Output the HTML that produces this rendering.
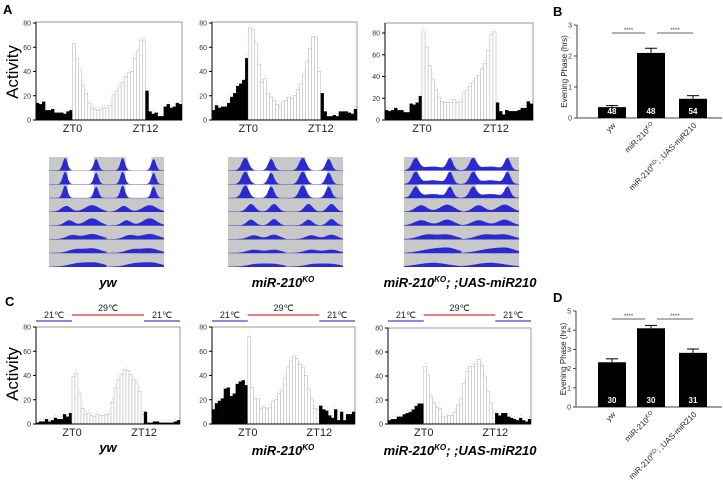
<!DOCTYPE html>
<html><head><meta charset="utf-8"><style>
body{margin:0;background:#fff;}
svg{display:block;font-family:"Liberation Sans",sans-serif;}
</style></head><body>
<svg id="fig" width="723" height="481" viewBox="0 0 723 481" xmlns="http://www.w3.org/2000/svg">
<text x="3" y="14" font-size="13" font-weight="bold">A</text>
<text x="553" y="16" font-size="13" font-weight="bold">B</text>
<text x="5" y="306" font-size="13" font-weight="bold">C</text>
<text x="553" y="302" font-size="13" font-weight="bold">D</text>
<text transform="translate(18,72) rotate(-90)" text-anchor="middle" font-size="17">Activity</text>
<text transform="translate(18,374) rotate(-90)" text-anchor="middle" font-size="17">Activity</text>
<g font-size="13" font-weight="bold" font-style="italic" text-anchor="middle">
<text x="108" y="287">yw</text>
<text x="283" y="287">miR-210<tspan font-size="8" dy="-5">KO</tspan></text>
<text x="460" y="287">miR-210<tspan font-size="8" dy="-5">KO</tspan><tspan dy="5">; ;UAS-miR210</tspan></text>
<text x="108" y="452">yw</text>
<text x="283" y="455">miR-210<tspan font-size="8" dy="-5">KO</tspan></text>
<text x="460" y="455">miR-210<tspan font-size="8" dy="-5">KO</tspan><tspan dy="5">; ;UAS-miR210</tspan></text>
</g>
</svg>
<script>
// ---- Panel A histograms ----
const a1Pre=[14,13,15,8,8,9,6,6,6,5,7,8];
const a1Light=[63,51,42,29,22,14,10,9,8,9,10,10,12,21,24,28,31,36,39,40,51,57,66,66];
const a1Post=[24,7,5,6,3,3,11,13,10,11,14,13];
const a2Pre=[8,12,10,11,11,14,19,22,28,30,33,51];
const a2Light=[76,75,63,46,31,34,22,19,16,13,11,15,16,19,18,20,25,30,38,48,59,69,68,40];
const a2Post=[22,7,3,3,4,3,7,7,7,6,5,9];
const a3Pre=[9,8,9,11,9,9,7,7,15,14,16,22];
const a3Light=[81,67,50,37,28,21,17,16,16,16,19,16,17,25,27,31,34,38,41,47,52,64,79,81];
const a3Post=[16,8,5,9,8,8,8,9,11,11,17,15];
// ---- Panel C histograms ----
const c1Pre=[1,2,2,4,2,3,5,4,4,8,6,9];
const c1Light=[39,42,25,13,8,9,7,6,8,7,7,8,9,18,30,37,41,45,44,41,37,34,27,8];
const c1Post=[10,1,1,2,2,1,1,1,1,1,2,3];
const c2Pre=[12,17,19,21,29,30,23,25,33,35,36,32];
const c2Light=[72,30,20,21,13,14,13,14,19,20,25,28,38,47,52,56,54,49,47,40,29,20,13,12];
const c2Post=[15,12,11,7,5,12,3,10,3,8,8,10];
const c3Pre=[3,4,4,6,6,8,9,10,12,15,17,17];
const c3Light=[48,41,23,18,14,13,6,6,7,7,10,16,21,34,44,48,48,50,54,49,40,27,18,10];
const c3Post=[9,7,9,9,6,5,4,3,5,3,2,4];
const histTicks=[0,20,40,60,80];
// ---- Bar charts ----
const bCats=["yw","miR-210KO","miR-210KO; ;UAS-miR210"];
const bVals=[0.35,2.1,0.62];
const bErr=[0.05,0.15,0.1];
const bN=["48","48","54"];
const bTicks=[0,1,2,3];
const dVals=[2.33,4.1,2.82];
const dErr=[0.18,0.15,0.2];
const dN=["30","30","31"];
const dTicks=[0,1,2,3,4,5];

const svg=document.getElementById('fig');
const NS="http://www.w3.org/2000/svg";
function mk(tag,attrs,parent){const e=document.createElementNS(NS,tag);for(const k in attrs)e.setAttribute(k,attrs[k]);(parent||svg).appendChild(e);return e;}

function hist(name,x0,x1,frameTop,y80,y0,pre,light,post){
  const g=mk('g',{});
  
  
  const vals=pre.concat(light,post);
  const n=vals.length,bw=(x1-x0)/n;
  const ys=v=>y0-(y0-y80)*v/80;
  mk('rect',{x:x0,y:frameTop,width:x1-x0,height:y0-frameTop,fill:'none',stroke:'#999','stroke-width':1},g);
  vals.forEach((v,i)=>{
    const dark=i<pre.length||i>=pre.length+light.length;
    const r=mk('rect',{x:x0+i*bw,y:ys(v),width:bw,height:y0-ys(v),fill:dark?'#000':'#fff',stroke:dark?'#000':'#bbb','stroke-width':dark?0.3:0.6},g);
    
    
    mk('rect',{x:x0+i*bw+bw/2-0.4,y:ys(v)-3,width:0.8,height:0.8,fill:'#bbb'},g);
  });
  mk('line',{x1:x0,y1:frameTop,x2:x0,y2:y0,stroke:'#000','stroke-width':1},g);
  mk('line',{x1:x0,y1:y0,x2:x1,y2:y0,stroke:'#000','stroke-width':1},g);
  histTicks.forEach(t=>{
    mk('line',{x1:x0-3,y1:ys(t),x2:x0,y2:ys(t),stroke:'#000'},g);
    const tx=mk('text',{x:x0-5,y:ys(t)+2.5,'font-size':7,'text-anchor':'end',fill:'#333'},g);tx.textContent=t;
  });
  const z0=x0+pre.length*bw, z12=x0+(pre.length+light.length)*bw;
  const l1=mk('text',{x:z0,y:y0+12,'font-size':11,'text-anchor':'middle',fill:'#222'},g);l1.textContent='ZT0';
  
  const l2=mk('text',{x:z12,y:y0+12,'font-size':11,'text-anchor':'middle',fill:'#222'},g);l2.textContent='ZT12';
  
  return {z0,z12};
}
hist('activity-histogram-yw-a',36,182,22,23,120,a1Pre,a1Light,a1Post);
hist('activity-histogram-ko-a',212,357,22,23,120,a2Pre,a2Light,a2Post);
hist('activity-histogram-rescue-a',385,533,23,33,120,a3Pre,a3Light,a3Post);
const tc=[
 hist('activity-histogram-yw-c',36,180,327,327,424,c1Pre,c1Light,c1Post),
 hist('activity-histogram-ko-c',212,355,327,327,424,c2Pre,c2Light,c2Post),
 hist('activity-histogram-rescue-c',388,531,328,328,424,c3Pre,c3Light,c3Post)];
[[36,180],[212,355],[388,531]].forEach((r,i)=>{
  const z0=tc[i].z0,z12=tc[i].z12;
  const g=mk('g',{});
  
  
  mk('line',{x1:r[0],y1:321,x2:z0,y2:321,stroke:'#4444cc','stroke-width':1.3},g);
  mk('line',{x1:z0,y1:315,x2:z12,y2:315,stroke:'#dd3333','stroke-width':1.3},g);
  mk('line',{x1:z12,y1:321,x2:r[1],y2:321,stroke:'#4444cc','stroke-width':1.3},g);
  [[(r[0]+z0)/2,318,'21℃'],[(z0+z12)/2,311,'29℃'],[(z12+r[1])/2,318,'21℃']].forEach(p=>{
    const t=mk('text',{x:p[0],y:p[1],'font-size':9,'text-anchor':'middle',fill:'#222'},g);t.textContent=p[2];
  });
});

// ---- Actograms ----
const actoYw=[
 {w:[0.33,0.78],p:[[0.28,1,0.04],[0.82,0.9,0.04]]},
 {w:[0.33,0.78],p:[[0.28,1,0.04],[0.82,0.9,0.04]]},
 {w:[0.33,0.78],p:[[0.28,1,0.04],[0.82,0.9,0.04]]},
 {w:null,p:[[0.3,0.45,0.08],[0.75,0.5,0.12]]},
 {w:null,p:[[0.35,0.4,0.08],[0.75,0.55,0.12]]},
 {w:null,p:[[0.4,0.3,0.1],[0.75,0.4,0.15]]},
 {w:null,p:[[0.45,0.25,0.12],[0.75,0.35,0.15]]},
 {w:null,p:[[0.5,0.25,0.15],[0.8,0.3,0.15]]}];
const actoKo=[
 {w:[0.35,0.72],p:[[0.3,1,0.06],[0.75,0.9,0.05]]},
 {w:[0.35,0.72],p:[[0.3,1,0.06],[0.75,0.9,0.05]]},
 {w:[0.35,0.72],p:[[0.3,1,0.06],[0.75,0.9,0.05]]},
 {w:null,p:[[0.4,0.6,0.07],[0.8,0.6,0.07]]},
 {w:null,p:[[0.4,0.45,0.07],[0.8,0.5,0.07]]},
 {w:null,p:[[0.45,0.3,0.1],[0.8,0.35,0.1]]},
 {w:null,p:[[0.45,0.25,0.12],[0.8,0.25,0.12]]},
 {w:null,p:[[0.5,0.2,0.15],[0.8,0.2,0.15]]}];
const actoRe=[
 {w:[0.25,0.8],p:[[0.2,0.9,0.06],[0.8,0.9,0.05],[0.5,0.3,0.2]]},
 {w:[0.25,0.8],p:[[0.2,0.9,0.06],[0.8,0.9,0.05],[0.5,0.3,0.2]]},
 {w:[0.25,0.8],p:[[0.2,0.8,0.06],[0.8,0.8,0.05],[0.5,0.3,0.2]]},
 {w:null,p:[[0.3,0.5,0.1],[0.75,0.55,0.12]]},
 {w:null,p:[[0.3,0.4,0.12],[0.75,0.45,0.12]]},
 {w:null,p:[[0.4,0.35,0.15],[0.75,0.35,0.15]]},
 {w:null,p:[[0.5,0.3,0.2],[0.8,0.3,0.15]]},
 {w:null,p:[[0.5,0.3,0.25]]}];
function acto(name,x0,rows){
  const g=mk('g',{});
  
  
  const W=115,H=110,y0=157,rh=H/rows.length,hw=W/2;
  mk('rect',{x:x0,y:y0,width:W,height:H,fill:'#c8c8c8'},g);
  rows.forEach((r,i)=>{
    const by=y0+(i+1)*rh;
    for(let h=0;h<2;h++){
      const hx=x0+h*hw;
      if(r.w) mk('rect',{x:hx+r.w[0]*hw,y:by-rh,width:(r.w[1]-r.w[0])*hw,height:rh,fill:'#fff'},g);
      let d=`M${hx},${by}`;
      for(let k=0;k<=50;k++){
        const f=k/50;let v=0.03;
        r.p.forEach(p=>{v+=p[1]*Math.exp(-((f-p[0])**2)/(2*p[2]*p[2]));});
        v=Math.min(v,1);
        d+=` L${(hx+f*hw).toFixed(1)},${(by-v*(rh-1)).toFixed(1)}`;
      }
      d+=` L${hx+hw},${by} Z`;
      mk('path',{d,fill:'#2a2ad0'},g);
    }
  });
}
acto('actogram-yw',49,actoYw);
acto('actogram-ko',228,actoKo);
acto('actogram-rescue',404,actoRe);

// ---- Bar charts B and D ----
function barChart(name,ax,yTop,y0,ticks,vals,errs,ns,title){
  const g=mk('g',{});
  
  
  const max=ticks[ticks.length-1];
  const ys=v=>y0-(y0-yTop)*v/max;
  const centers=[612,651,693],bw=28;
  mk('line',{x1:ax,y1:yTop,x2:ax,y2:y0,stroke:'#444'},g);
  mk('line',{x1:ax,y1:y0,x2:722,y2:y0,stroke:'#444'},g);
  ticks.forEach(t=>{
    mk('line',{x1:ax-3,y1:ys(t),x2:ax,y2:ys(t),stroke:'#444'},g);
    const tx=mk('text',{x:ax-5,y:ys(t)+2.5,'font-size':7,'text-anchor':'end',fill:'#333'},g);tx.textContent=t;
  });
  const yt=mk('text',{transform:`translate(${ax-10},${(yTop+y0)/2}) rotate(-90)`,'font-size':8,'text-anchor':'middle',fill:'#222'},g);
  yt.textContent=title;
  
  vals.forEach((v,i)=>{
    const c=centers[i];
    const b=mk('rect',{x:c-bw/2,y:ys(v),width:bw,height:y0-ys(v),fill:'#000'},g);
    
    
    mk('line',{x1:c,y1:ys(v),x2:c,y2:ys(v+errs[i]),stroke:'#000'},g);
    mk('line',{x1:c-6,y1:ys(v+errs[i]),x2:c+6,y2:ys(v+errs[i]),stroke:'#000'},g);
    const nt=mk('text',{x:c,y:y0-4,'font-size':8,'font-weight':'bold','text-anchor':'middle',fill:'#fff'},g);nt.textContent=ns[i];
    const lt=mk('text',{transform:`translate(${c+4},${y0+8}) rotate(-45)`,'font-size':8,'text-anchor':'end',fill:'#222'},g);
    if(i==0) lt.textContent=bCats[0];
    else{lt.innerHTML='miR-210<tspan font-size="5.5" dy="-3">KO</tspan>'+(i==2?'<tspan dy="3">; ;UAS-miR210</tspan>':'');}
    
  });
  const sy=yTop+8;
  [[centers[0],centers[1]-6],[centers[1]+6,centers[2]]].forEach(s=>{
    mk('line',{x1:s[0],y1:sy,x2:s[1],y2:sy,stroke:'#666'},g);
    const st=mk('text',{x:(s[0]+s[1])/2,y:sy-1,'font-size':6,'text-anchor':'middle',fill:'#444'},g);st.textContent='****';
  });
}
barChart('evening-phase-chart-b',577,25,118,bTicks,bVals,bErr,bN,'Evening Phase (hrs)');
barChart('evening-phase-chart-d',576,311,407,dTicks,dVals,dErr,dN,'Evening Phase (hrs)');
</script>
</body></html>
